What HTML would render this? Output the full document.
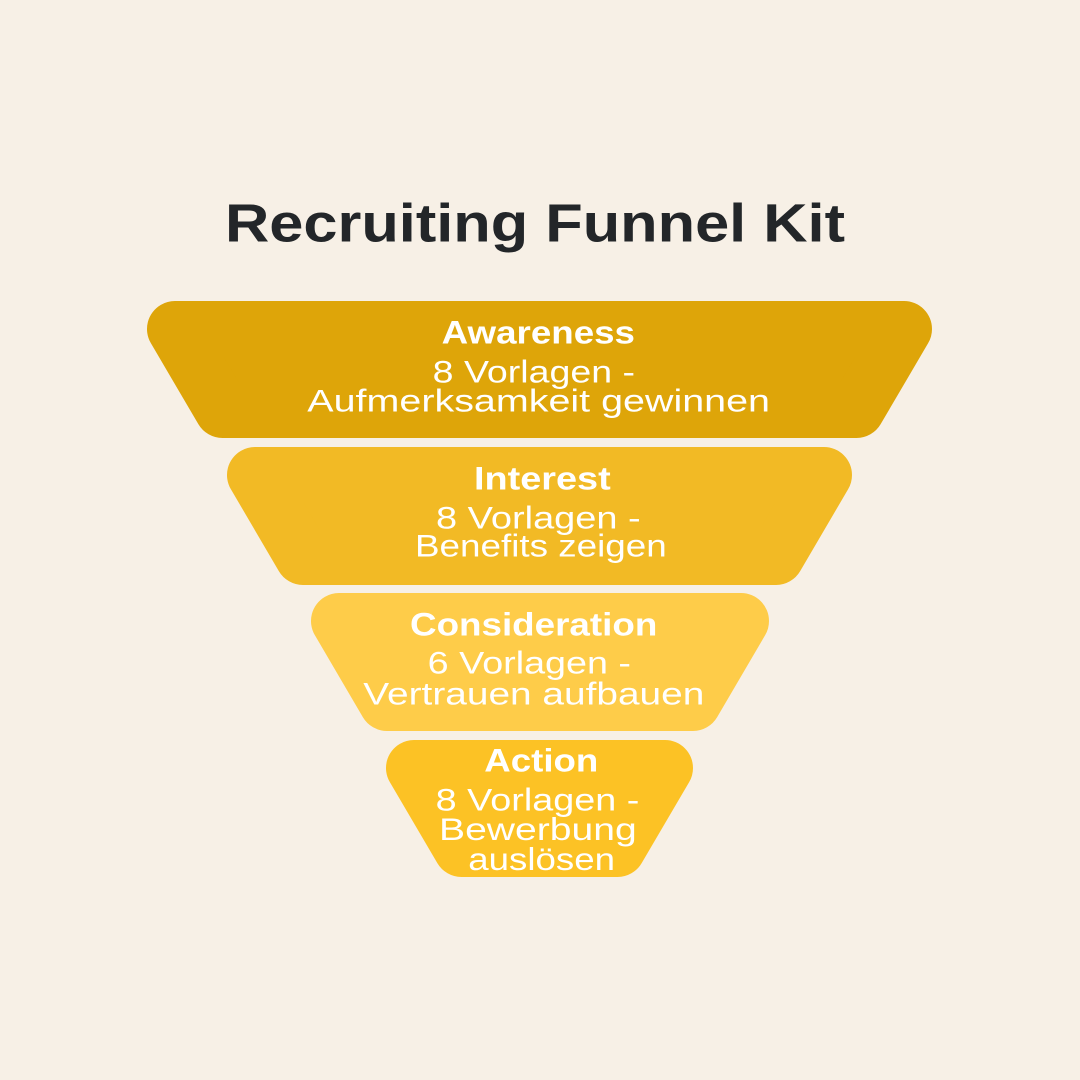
<!DOCTYPE html>
<html>
<head>
<meta charset="utf-8">
<style>
  html, body { margin: 0; padding: 0; background: #F7F0E6; }
  body { width: 1080px; height: 1080px; overflow: hidden; }
  svg { display: block; }
  .t { font-family: "Liberation Sans", sans-serif; fill: #ffffff; }
  .b { font-weight: bold; font-size: 32.5px; }
  .r { font-weight: normal; font-size: 31.5px; }
</style>
</head>
<body>
<svg width="1080" height="1080" viewBox="0 0 1080 1080" xmlns="http://www.w3.org/2000/svg">
  <rect x="0" y="0" width="1080" height="1080" fill="#F7F0E6"/>

  <!-- Title -->
  <text x="225" y="241.7" font-family="Liberation Sans, sans-serif" font-weight="bold" font-size="54" fill="#232629" textLength="620" lengthAdjust="spacingAndGlyphs">Recruiting Funnel Kit</text>

  <!-- Funnel shapes (rounded via stroke-linejoin) -->
  <polygon points="175,329 904,329 856.5,410 222.5,410" fill="#DEA509" stroke="#DEA509" stroke-width="56" stroke-linejoin="round"/>
  <polygon points="255,475 824,475 776,557 303,557" fill="#F2BA25" stroke="#F2BA25" stroke-width="56" stroke-linejoin="round"/>
  <polygon points="339,621 741,621 693,703 387,703" fill="#FECC49" stroke="#FECC49" stroke-width="56" stroke-linejoin="round"/>
  <polygon points="414,768 665,768 617.5,849 461.5,849" fill="#FCC225" stroke="#FCC225" stroke-width="56" stroke-linejoin="round"/>

  <!-- Awareness -->
  <text class="t b" x="441.7" y="343.3" textLength="193.3" lengthAdjust="spacingAndGlyphs">Awareness</text>
  <text class="t r" x="432.7" y="382.7" textLength="202.3" lengthAdjust="spacingAndGlyphs">8 Vorlagen -</text>
  <text class="t r" x="307.3" y="411.7" textLength="462.7" lengthAdjust="spacingAndGlyphs">Aufmerksamkeit gewinnen</text>

  <!-- Interest -->
  <text class="t b" x="474" y="489.3" textLength="136.7" lengthAdjust="spacingAndGlyphs">Interest</text>
  <text class="t r" x="436" y="528.3" textLength="204.7" lengthAdjust="spacingAndGlyphs">8 Vorlagen -</text>
  <text class="t r" x="415" y="556.7" textLength="251.7" lengthAdjust="spacingAndGlyphs">Benefits zeigen</text>

  <!-- Consideration -->
  <text class="t b" x="410" y="635.7" textLength="247.3" lengthAdjust="spacingAndGlyphs">Consideration</text>
  <text class="t r" x="427.7" y="673.3" textLength="203.3" lengthAdjust="spacingAndGlyphs">6 Vorlagen -</text>
  <text class="t r" x="363.3" y="704.3" textLength="341" lengthAdjust="spacingAndGlyphs">Vertrauen aufbauen</text>

  <!-- Action -->
  <text class="t b" x="484.3" y="771.7" textLength="114" lengthAdjust="spacingAndGlyphs">Action</text>
  <text class="t r" x="435.7" y="810.7" textLength="203.6" lengthAdjust="spacingAndGlyphs">8 Vorlagen -</text>
  <text class="t r" x="439" y="840" textLength="197.7" lengthAdjust="spacingAndGlyphs">Bewerbung</text>
  <text class="t r" x="468.3" y="870" textLength="146.7" lengthAdjust="spacingAndGlyphs">auslösen</text>
</svg>
</body>
</html>
